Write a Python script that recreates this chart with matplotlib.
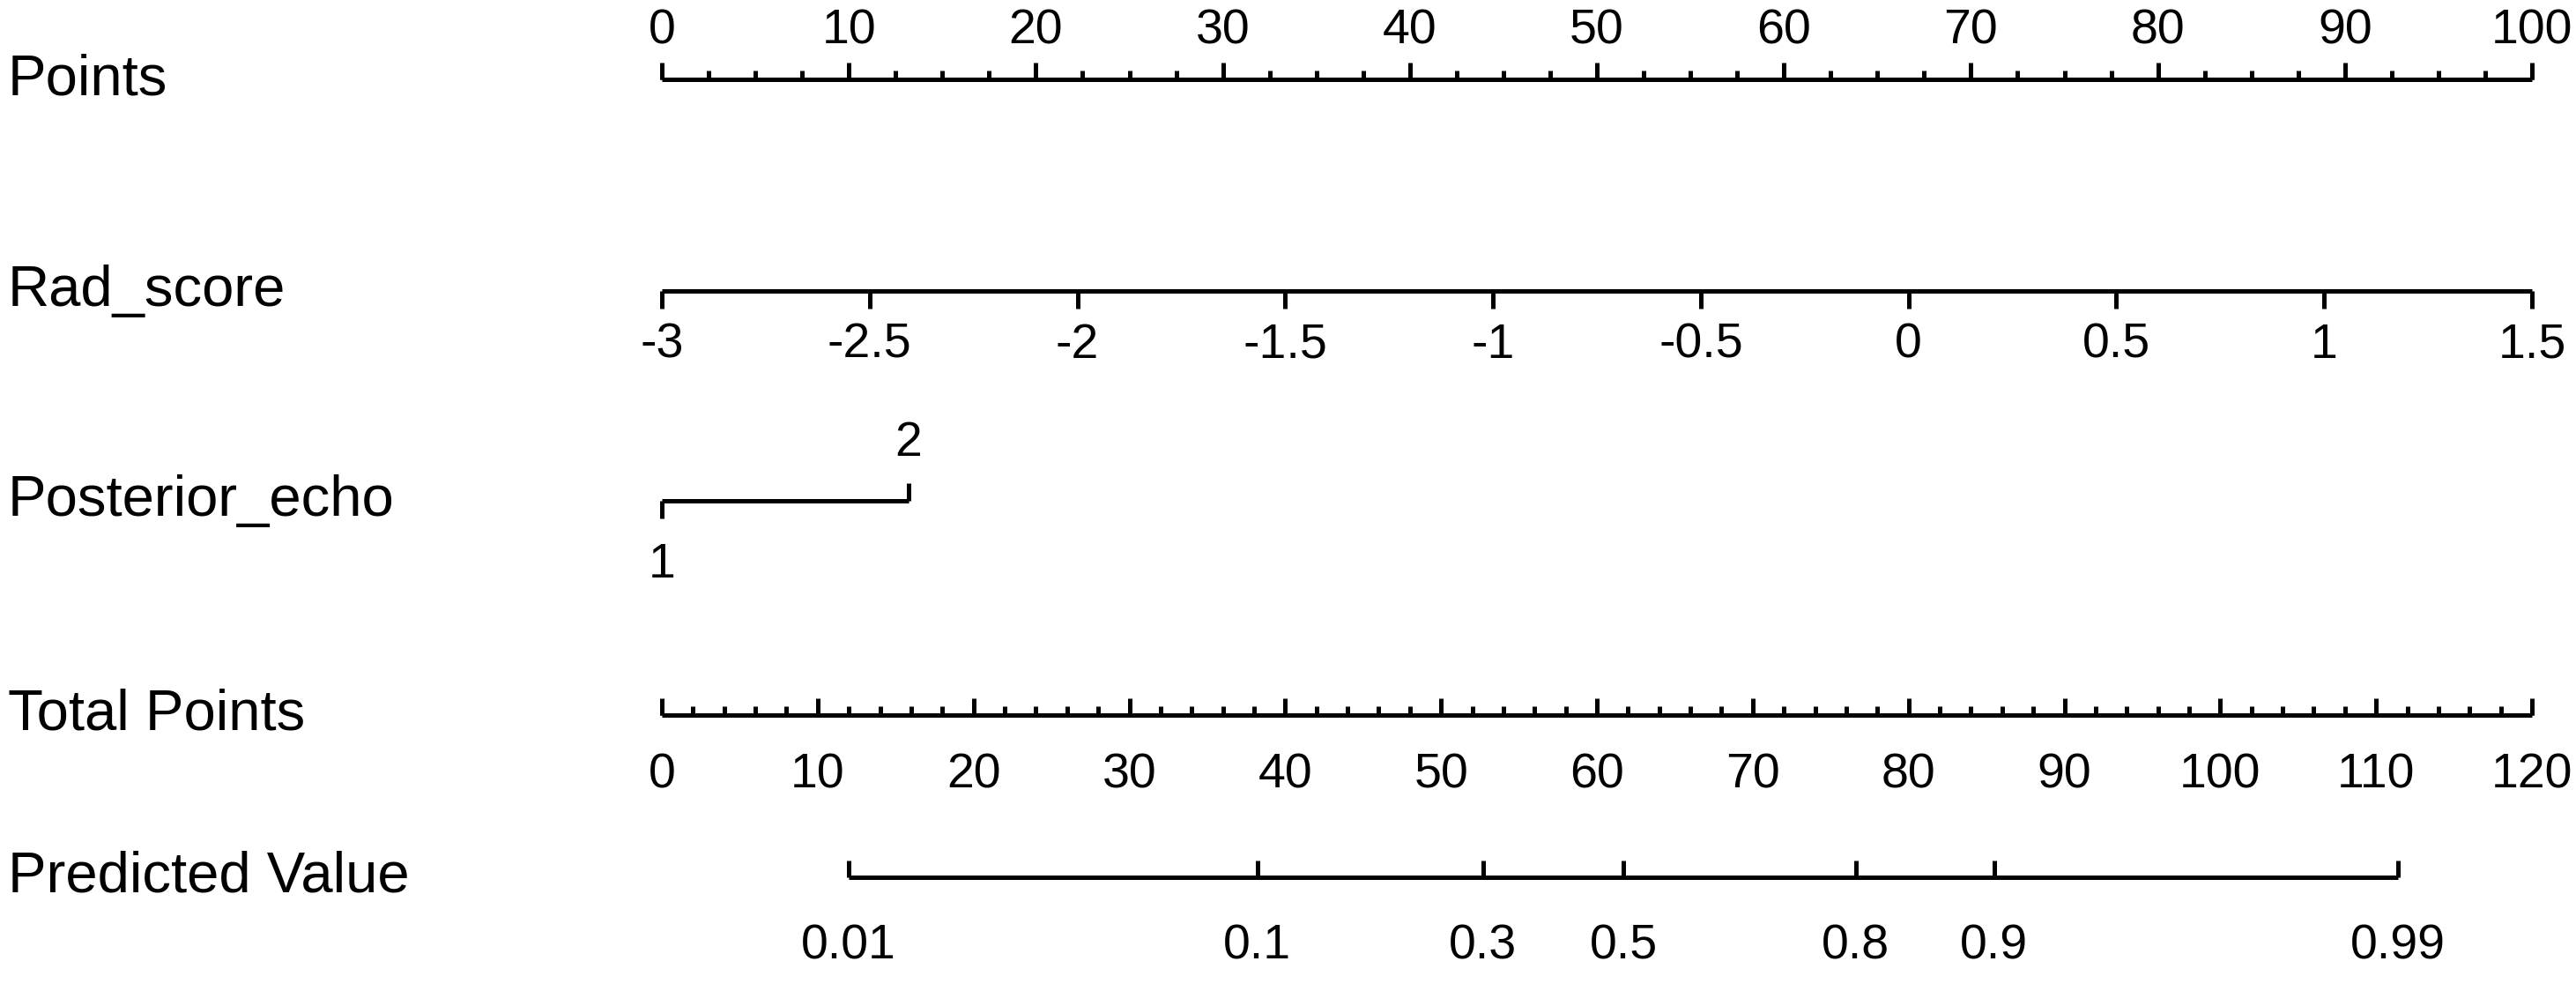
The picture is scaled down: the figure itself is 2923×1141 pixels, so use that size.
import numpy as np
import matplotlib
matplotlib.use("Agg")
import matplotlib.pyplot as plt

plt.rcParams['font.family'] = ['Liberation Sans', 'DejaVu Sans']

# --- nomogram data ---
var_names = ["Points", "Rad_score", "Posterior_echo", "Total Points", "Predicted Value"]

points_major = np.arange(0, 101, 10)
points_minor = np.arange(0, 100.1, 2.5)

rad_ticks = [-3, -2.5, -2, -1.5, -1, -0.5, 0, 0.5, 1, 1.5]
rad_labels = ["-3", "-2.5", "-2", "-1.5", "-1", "-0.5", "0", "0.5", "1", "1.5"]
rad_min, rad_max = -3, 1.5

echo_levels = ["1", "2"]
echo_points = [0, 13.2]

total_major = np.arange(0, 121, 10)
total_minor = np.arange(0, 120.1, 2)
total_max = 120

pred_labels = ["0.01", "0.1", "0.3", "0.5", "0.8", "0.9", "0.99"]
pred_total = [12.0, 38.2, 52.7, 61.7, 76.6, 85.5, 111.4]

# --- layout (pixel rows of the 2923x1141 picture) ---
W, H = 2923, 1141
x0_px, x1_px = 751, 2873
row_y = [90, 330, 568, 811, 995]
lw = 3.6
tick_fs = 40
lab_fs = 47

fig = plt.figure(figsize=(W / 100, H / 100), dpi=100)
ax = fig.add_axes([0, 0, 1, 1])
ppx = 100 / (x1_px - x0_px)
ax.set_xlim(-x0_px * ppx, (W - x0_px) * ppx)
ax.set_ylim(H, 0)
ax.axis("off")

def hline(y, a, b):
    ax.plot([a, b], [y, y], color="black", lw=lw, solid_capstyle="butt")

def ticks(xs, y, length):
    ax.vlines(xs, y, y + length, color="black", lw=lw)

# left-hand variable labels
for name, y in zip(var_names, row_y):
    ax.text(-x0_px * ppx + 9 * ppx, y, name, fontsize=lab_fs, ha="left", va="center")

# Points
y = row_y[0]
hline(y, 0, 100)
ticks(points_minor, y, -10)
ticks(points_major, y, -19)
for v in points_major:
    ax.text(v, 35, str(v), fontsize=tick_fs, ha="center", va="center")

# Rad_score
y = row_y[1]
rad_x = [(r - rad_min) / (rad_max - rad_min) * 100 for r in rad_ticks]
hline(y, rad_x[0], rad_x[-1])
ticks(rad_x, y, 20)
for xv, lab in zip(rad_x, rad_labels):
    ax.text(xv, 392, lab, fontsize=tick_fs, ha="center", va="center")

# Posterior_echo
y = row_y[2]
hline(y, echo_points[0], echo_points[1])
ticks([echo_points[0]], y, 20)
ticks([echo_points[1]], y, -20)
ax.text(echo_points[0], 641, echo_levels[0], fontsize=tick_fs, ha="center", va="center")
ax.text(echo_points[1], 503, echo_levels[1], fontsize=tick_fs, ha="center", va="center")

# Total Points
y = row_y[3]
to_x = 100 / total_max
hline(y, 0, 100)
ticks(total_minor * to_x, y, -10)
ticks(total_major * to_x, y, -19)
for v in total_major:
    ax.text(v * to_x, 879, str(v), fontsize=tick_fs, ha="center", va="center")

# Predicted Value
y = row_y[4]
px = [t * to_x for t in pred_total]
hline(y, px[0], px[-1])
ticks(px, y, -19)
for xv, lab in zip(px, pred_labels):
    ax.text(xv, 1074, lab, fontsize=tick_fs, ha="center", va="center")

fig.savefig("out.png", dpi=100, facecolor="white")
